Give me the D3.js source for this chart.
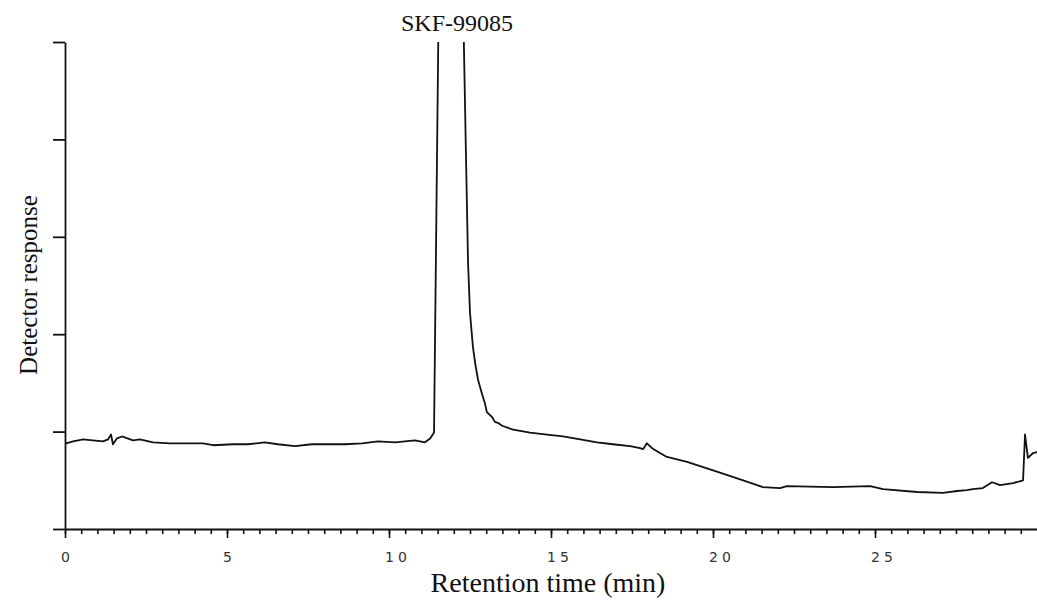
<!DOCTYPE html>
<html>
<head>
<meta charset="utf-8">
<script src="https://cdn.jsdelivr.net/npm/d3@7"></script>
<style>
  body { margin: 0; background: #fff; }
  svg { display: block; }
  .serif { font-family: "Liberation Serif", "Times New Roman", serif; fill: #111; }
  .ticklab { font-family: "DejaVu Sans", sans-serif; font-size: 14px; letter-spacing: 4px; fill: #333; }
</style>
</head>
<body>
<svg width="1037" height="601"></svg>
<script>
// chromatogram trace
var timeMin = [0.03, 0.25, 0.56, 0.86, 1.17, 1.33, 1.42, 1.48, 1.60, 1.76, 2.10, 2.31, 2.72, 3.24, 3.77,
  4.26, 4.57, 5.19, 5.65, 6.17, 6.57, 7.10, 7.62, 8.12, 8.64, 9.17, 9.66, 10.19, 10.80, 11.11,
  11.27, 11.39, 11.52, 11.90, 12.31, 12.38, 12.44, 12.50, 12.59, 12.67, 12.75, 12.86, 12.96, 13.02, 13.18, 13.27,
  13.36, 13.49, 13.83, 14.35, 14.88, 15.37, 15.90, 16.42, 16.91, 17.44, 17.75, 17.84, 17.96, 18.12,
  18.36, 18.58, 19.20, 20.12, 20.93, 21.54, 22.07, 22.28, 23.70, 24.85, 25.25, 26.30, 27.10, 27.53,
  27.84, 28.02, 28.33, 28.61, 28.86, 29.26, 29.57, 29.63, 29.72, 29.88, 30.0];
var response = [0.88, 0.90, 0.92, 0.91, 0.90, 0.92, 0.97, 0.87, 0.93, 0.95, 0.91, 0.92, 0.89, 0.88, 0.88,
  0.88, 0.86, 0.87, 0.87, 0.89, 0.87, 0.85, 0.87, 0.87, 0.87, 0.88, 0.90, 0.89, 0.91, 0.89,
  0.93, 0.99, 5.0, 25.0, 5.0, 3.76, 2.73, 2.22, 1.87, 1.68, 1.53, 1.40, 1.29, 1.20, 1.15, 1.10,
  1.09, 1.06, 1.02, 0.99, 0.97, 0.95, 0.92, 0.89, 0.87, 0.85, 0.83, 0.82, 0.88, 0.83,
  0.78, 0.74, 0.69, 0.59, 0.50, 0.43, 0.42, 0.44, 0.43, 0.44, 0.41, 0.38, 0.37, 0.39,
  0.40, 0.41, 0.42, 0.48, 0.45, 0.47, 0.50, 0.97, 0.73, 0.78, 0.79];

var yTicks = [0, 1, 2, 3, 4, 5];
var xLabels = [0, 5, 10, 15, 20, 25];
var xMinor = d3.range(0, 30, 0.5);
var peakName = "SKF-99085";

var margin = {top: 42, right: 0, bottom: 72, left: 65},
    width = 1037 - margin.left - margin.right,
    height = 601 - margin.top - margin.bottom;

var svg = d3.select("svg");
var g = svg.append("g").attr("transform", "translate(" + margin.left + "," + margin.top + ")");

var x = d3.scaleLinear().domain([0, 30]).range([0, width]);
var y = d3.scaleLinear().domain([0, 5]).range([height, 0]);

svg.append("defs").append("clipPath").attr("id", "plot")
  .append("rect").attr("x", 0).attr("y", 0).attr("width", width).attr("height", height);

// x axis: minor ticks every half minute, major ones every 5
var minor = g.append("g")
    .attr("transform", "translate(0," + height + ")")
    .call(d3.axisBottom(x).tickValues(xMinor).tickSize(5).tickSizeOuter(0).tickFormat(""));
minor.select(".domain").attr("stroke", "#111").attr("stroke-width", 1.8);
minor.selectAll(".tick line").attr("stroke", "#111").attr("stroke-width", 1.6);

var major = g.append("g")
    .attr("transform", "translate(0," + height + ")")
    .call(d3.axisBottom(x).tickValues(xLabels).tickSize(9).tickSizeOuter(0).tickFormat(""));
major.select(".domain").remove();
major.selectAll(".tick line").attr("stroke", "#111").attr("stroke-width", 1.6);

g.selectAll(".ticklab")
  .data(xLabels)
  .enter().append("text")
    .attr("class", "ticklab")
    .attr("x", function(d) { return x(d) - 4; })
    .attr("y", height + 33)
    .text(function(d) { return d; });

// y axis, no labels
var yAxis = g.append("g")
    .call(d3.axisLeft(y).tickValues(yTicks).tickSize(12).tickSizeOuter(0).tickFormat(""));
yAxis.select(".domain").attr("stroke", "#111").attr("stroke-width", 1.8);
yAxis.selectAll(".tick line").attr("stroke", "#111").attr("stroke-width", 1.8);

var line = d3.line()
    .x(function(d, i) { return x(timeMin[i]); })
    .y(function(d) { return y(d); });

g.append("path")
    .datum(response)
    .attr("clip-path", "url(#plot)")
    .attr("fill", "none")
    .attr("stroke", "#111")
    .attr("stroke-width", 1.8)
    .attr("stroke-linejoin", "round")
    .attr("d", line);

svg.append("text")
    .attr("class", "serif")
    .attr("x", 457)
    .attr("y", 31)
    .attr("text-anchor", "middle")
    .style("font-size", "24px")
    .text(peakName);

svg.append("text")
    .attr("class", "serif")
    .attr("transform", "translate(37,285) rotate(-90)")
    .attr("text-anchor", "middle")
    .style("font-size", "25px")
    .text("Detector response");

svg.append("text")
    .attr("class", "serif")
    .attr("x", 548)
    .attr("y", 592)
    .attr("text-anchor", "middle")
    .style("font-size", "28px")
    .text("Retention time (min)");
</script>
</body>
</html>
